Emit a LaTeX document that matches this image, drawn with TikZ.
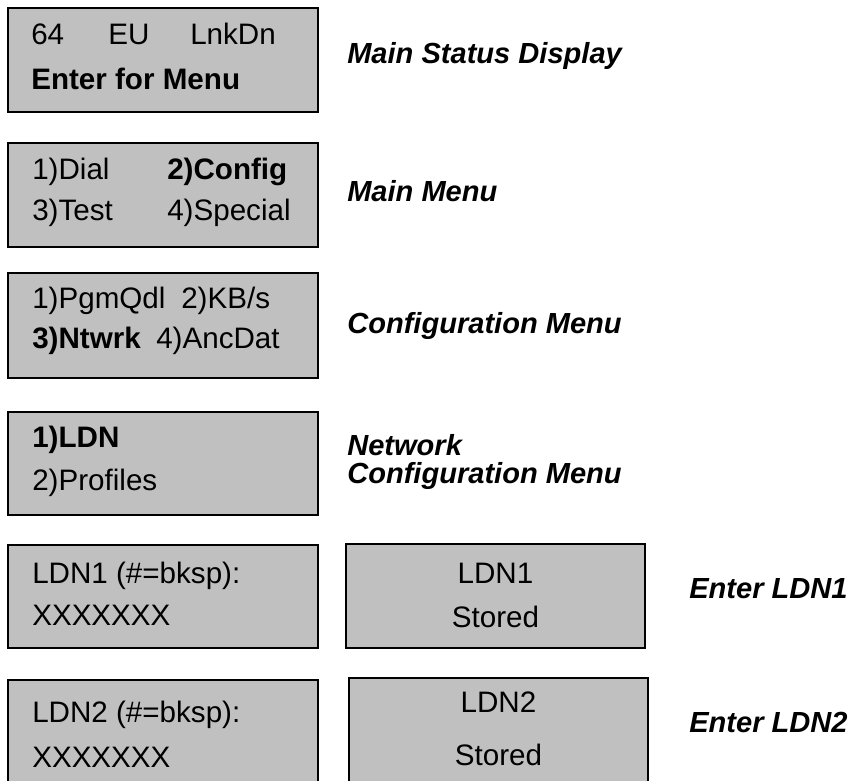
\documentclass[tikz,border=0pt]{standalone}
\usepackage{fontspec}
\setmainfont{Liberation Sans}
\usepackage{tikz}
\definecolor{lcdgray}{HTML}{C0C0C0}
\newcommand{\lcdfont}{\fontsize{22.2}{26}\selectfont}
\newcommand{\capfont}{\fontsize{21.8}{26}\selectfont\bfseries\itshape}

\begin{document}
\begin{tikzpicture}[x=0.75pt, y=-0.75pt, every node/.style={inner sep=0pt}, screen/.style={draw, line width=2.2pt, fill=lcdgray, minimum width=232.5pt, minimum height=78pt}, stored/.style={screen, minimum width=224.25pt}, lcd/.style={font=\lcdfont, anchor=base west}, lcdc/.style={font=\lcdfont, anchor=base}, caption/.style={font=\capfont, anchor=base west}]
\path[use as bounding box, clip] (0,0) rectangle (853,781);
\node[screen] (status) at (163,60) {};
\node[screen] (mainmenu) at (163,195) {};
\node[screen, minimum height=78.75pt] (config) at (163,325.5) {};
\node[screen, minimum height=77.25pt] (network) at (163,463.5) {};
\node[screen, minimum height=77.25pt] (ldnone) at (163,596.5) {};
\node[screen] (ldntwo) at (163,732) {};
\node[stored] (storedone) at (495.5,596) {};
\node[stored] (storedtwo) at (498.5,730) {};
% screen texts
\node[lcd] (s1) at (31,45) {64}; \node[lcd] (s2) at (108,45) {EU}; \node[lcd] (s3) at (190,45) {LnkDn};
\node[lcd] (s4) at (31,90) {\bfseries Enter for Menu};
\node[lcd] (m1) at (32,180) {1)Dial}; \node[lcd] (m2) at (167,180) {\bfseries 2)Config};
\node[lcd] (m3) at (32,220) {3)Test}; \node[lcd] (m4) at (167,220) {4)Special};
\node[lcd] (c1) at (32,308) {1)PgmQdl}; \node[lcd] (c2) at (181,308) {2)KB/s};
\node[lcd] (c3) at (32,348) {\bfseries 3)Ntwrk}; \node[lcd] (c4) at (156,348) {4)AncDat};
\node[lcd] (n1) at (32,447) {\bfseries 1)LDN};
\node[lcd] (n2) at (32,490) {2)Profiles};
\node[lcd] (l1) at (32,583) {LDN1 (\#=bksp):};
\node[lcd] (l2) at (32,625) {XXXXXXX};
\node[lcd] (l3) at (32,722) {LDN2 (\#=bksp):};
\node[lcd] (l4) at (32,767) {XXXXXXX};
\node[lcdc] (t1) at (495.5,583) {LDN1};
\node[lcdc] (t2) at (495.5,627) {Stored};
\node[lcdc] (t3) at (498.5,712) {LDN2};
\node[lcdc] (t4) at (498.5,765) {Stored};
% captions
\node[caption] (capstatus) at (347,64) {Main Status Display};
\node[caption] (capmain) at (347,202) {Main Menu};
\node[caption] (capconfig) at (347,333) {Configuration Menu};
\node[caption] (capnet) at (347,455) {Network};
\node[caption] (capnetb) at (347,483) {Configuration Menu};
\node[caption] (capone) at (689,598) {Enter LDN1};
\node[caption] (captwo) at (689,732) {Enter LDN2};
\end{tikzpicture}
\end{document}
